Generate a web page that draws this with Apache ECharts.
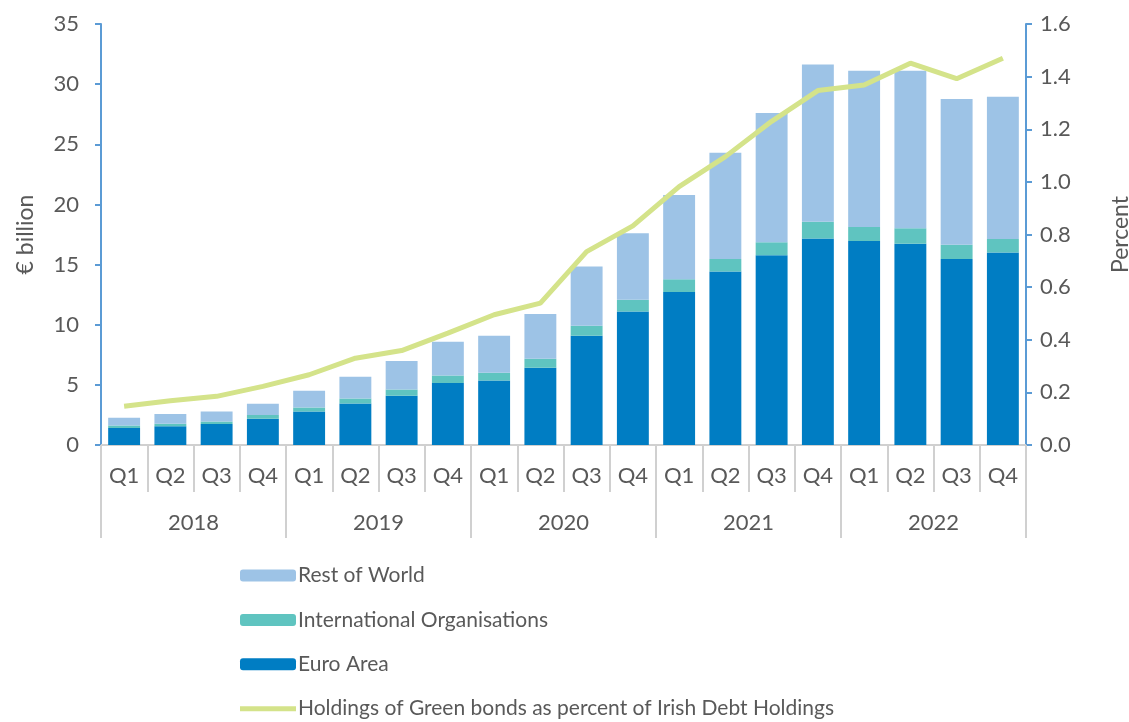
<!DOCTYPE html>
<html>
<head>
<meta charset="utf-8">
<script src="https://cdn.jsdelivr.net/npm/echarts@6/dist/echarts.min.js"></script>
<style>
html,body{margin:0;padding:0;background:#fff;}
#chart{width:1129px;height:722px;}
</style>
</head>
<body>
<div id="chart"></div>
<script>
// quarters and years for the two-level category axis
var quarters = ['Q1','Q2','Q3','Q4','Q1','Q2','Q3','Q4','Q1','Q2','Q3','Q4','Q1','Q2','Q3','Q4','Q1','Q2','Q3','Q4'];
var years = ['2018','2019','2020','2021','2022'];

// € billion
var euroArea = [1.41,1.55,1.74,2.18,2.79,3.46,4.09,5.15,5.37,6.42,9.08,11.1,12.71,14.42,15.78,17.16,16.97,16.74,15.47,16.0];
var intlOrgs = [0.22,0.22,0.22,0.31,0.33,0.41,0.53,0.63,0.63,0.75,0.83,0.97,1.08,1.05,1.08,1.39,1.16,1.28,1.17,1.13];
var restOfWorld = [0.64,0.80,0.83,0.94,1.39,1.80,2.36,2.80,3.08,3.73,4.92,5.54,7.0,8.83,10.74,13.09,12.98,13.09,12.12,11.83];
// percent
var greenShare = [0.147,0.168,0.185,0.223,0.267,0.33,0.359,0.425,0.495,0.539,0.735,0.833,0.982,1.096,1.23,1.347,1.368,1.451,1.392,1.47];

var txt = '#595959';
var axisBlue = '#5b9bd5';
var sepGrey = '#d0d0d0';
var font = 'Lato';

var chart = echarts.init(document.getElementById('chart'));
chart.setOption({
	animation:false,
	textStyle:{fontFamily:font},
	grid:{left:101,right:103,top:24,bottom:277,containLabel:false,outerBoundsMode:'none'},
	legend:{
		orient:'vertical',
		left:240,
		top:565,
		height:220,
		padding:0,
		itemWidth:56,
		itemHeight:12,
		itemGap:23.4,
		textStyle:{fontSize:21,lineHeight:20,color:txt,fontFamily:font,padding:[0,0,0,-3]},
		data:[
			'Rest of World',
			'International Organisations',
			'Euro Area',
			{name:'Holdings of Green bonds as percent of Irish Debt Holdings',icon:'path://M0,0L56,0L56,5L0,5Z'}
		]
	},
	xAxis:[{
		type:'category',
		data:quarters,
		position:'bottom',
		axisLine:{show:true,lineStyle:{color:sepGrey,width:2}},
		axisTick:{show:true,interval:0,length:47,lineStyle:{color:sepGrey,width:2}},
		axisLabel:{show:true,margin:20,fontSize:22,color:txt,interval:0}
	},{
		type:'category',
		data:years,
		position:'bottom',
		axisLine:{show:false},
		axisTick:{show:true,interval:0,length:93,lineStyle:{color:sepGrey,width:2}},
		axisLabel:{show:true,margin:67,fontSize:22,color:txt,interval:0}
	}],
	yAxis:[{
		type:'value',
		min:0,max:35,interval:5,
		name:'€ billion',
		nameLocation:'middle',
		nameGap:64,
		nameTextStyle:{fontSize:23,color:txt},
		axisLine:{show:true,lineStyle:{color:axisBlue,width:2}},
		axisTick:{show:true,length:6,lineStyle:{color:axisBlue,width:2}},
		axisLabel:{margin:22,fontSize:22,color:txt},
		splitLine:{show:false}
	},{
		type:'value',
		min:0,max:1.6,interval:0.2,
		name:'Percent',
		nameLocation:'middle',
		nameGap:83,
		nameTextStyle:{fontSize:23,color:txt},
		axisLine:{show:true,lineStyle:{color:axisBlue,width:2}},
		axisTick:{show:true,length:6,lineStyle:{color:axisBlue,width:2}},
		axisLabel:{margin:14,fontSize:22,color:txt,formatter:function(v){return v.toFixed(1);}},
		splitLine:{show:false}
	}],
	series:[{
		name:'Euro Area',
		type:'bar',
		stack:'total',
		barWidth:'69%',
		itemStyle:{color:'#007dc3'},
		data:euroArea
	},{
		name:'International Organisations',
		type:'bar',
		stack:'total',
		itemStyle:{color:'#5fc4c0'},
		data:intlOrgs
	},{
		name:'Rest of World',
		type:'bar',
		stack:'total',
		itemStyle:{color:'#9dc3e6'},
		data:restOfWorld
	},{
		name:'Holdings of Green bonds as percent of Irish Debt Holdings',
		type:'line',
		yAxisIndex:1,
		symbol:'none',
		z:5,
		lineStyle:{color:'#d4e38a',width:5},
		itemStyle:{color:'#d4e38a'},
		data:greenShare
	}]
});
</script>
</body>
</html>
